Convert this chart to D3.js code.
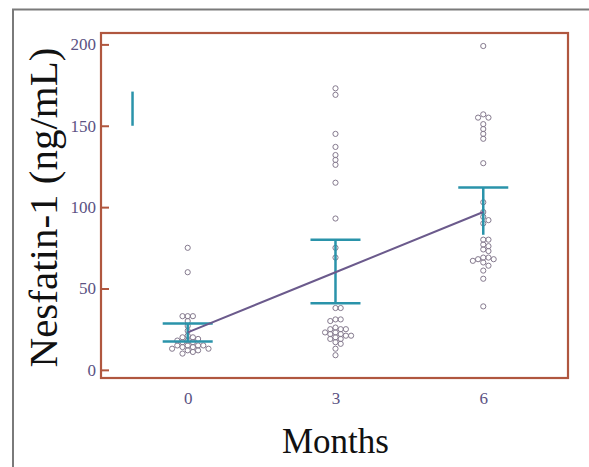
<!DOCTYPE html>
<html>
<head>
<meta charset="utf-8">
<script src="https://cdnjs.cloudflare.com/ajax/libs/d3/7.8.5/d3.min.js"></script>
<style>
  body { margin: 0; background: #fff; }
  svg { display: block; }
</style>
</head>
<body>
<div id="chart"></div>
<script>
// --- data ---
var months = [0, 3, 6];
var group0 = [75, 60, 33, 33, 33, 30, 27, 24, 21, 20, 20, 19, 18, 18, 17, 17, 15, 15, 15, 15, 14, 14, 13, 13, 12, 12, 11, 10];
var group3 = [173, 169, 145, 137, 132, 129, 126, 115, 93, 75, 69, 38, 38, 31, 31, 30, 26, 25, 25, 25, 23, 23, 22, 22, 21, 21, 20, 19, 19, 17, 16, 13, 9];
var group6 = [199, 157, 155, 155, 151, 148, 145, 142, 127, 103, 97, 94, 92, 90, 80, 80, 77, 76, 74, 73, 69, 69, 68, 68, 67, 66, 64, 61, 56, 39];
var means = [23, 60, 97];
var upper = [28.5, 80, 112];
var lower = [17.5, 41, 83];
var lowerCap = [true, true, false];
var legendMark = [150, 171];
var yTicks = [0, 50, 100, 150, 200];

var width = 589, height = 467;
var margin = {top: 33, right: 21, bottom: 89, left: 101};
var serif = "'Liberation Serif', 'Times New Roman', serif";

var svg = d3.select("#chart")
    .append("svg")
    .attr("width", width)
    .attr("height", height);

// outer frame
svg.append("rect")
    .attr("x", 13).attr("y", 9.5)
    .attr("width", 600).attr("height", 500)
    .attr("fill", "#fff")
    .attr("stroke", "#7a7a7a")
    .attr("stroke-width", 2);

var x = d3.scaleLinear()
    .domain([-1.76, 7.72])
    .range([margin.left, width - margin.right]);

var y = d3.scaleLinear()
    .domain([-5, 207])
    .range([height - margin.bottom, margin.top]);

var frameColor = "#b0573f",
    barColor = "#2a93aa",
    lineColor = "#6b5a8c",
    dotColor = "#857a8e",
    labelColor = "#5b5283";

// y axis with inward ticks
var yAxis = svg.append("g")
    .attr("transform", "translate(" + margin.left + ",0)")
    .call(d3.axisLeft(y).tickValues(yTicks).tickSizeInner(-8).tickSizeOuter(0).tickPadding(5));
yAxis.attr("font-family", serif).attr("font-size", 17);
yAxis.select(".domain").remove();
yAxis.selectAll(".tick line").attr("stroke", frameColor).attr("stroke-width", 2);
yAxis.selectAll(".tick text").attr("fill", labelColor);

// x labels
var xAxis = svg.append("g")
    .attr("transform", "translate(0," + (height - margin.bottom) + ")")
    .call(d3.axisBottom(x).tickValues(months).tickSize(0).tickPadding(14));
xAxis.attr("font-family", serif).attr("font-size", 17);
xAxis.select(".domain").remove();
xAxis.selectAll(".tick text").attr("fill", labelColor);

// plot frame
svg.append("rect")
    .attr("x", margin.left).attr("y", margin.top)
    .attr("width", width - margin.left - margin.right)
    .attr("height", height - margin.top - margin.bottom)
    .attr("fill", "none")
    .attr("stroke", frameColor)
    .attr("stroke-width", 2.2);

// simple beeswarm placement
var r = 2.6;
function swarm(vals, m) {
    var placed = [];
    vals.slice().sort(function(a, b) { return b - a; }).forEach(function(v) {
        var cy = y(v), cx0 = x(m), k = 0, cx;
        while (true) {
            var off = k === 0 ? 0 : Math.ceil(k / 2) * (k % 2 ? 1 : -1) * (r * 2);
            cx = cx0 + off;
            var ok = placed.every(function(p) {
                return Math.hypot(p.cx - cx, p.cy - cy) >= r * 2 - 0.6;
            });
            if (ok) break;
            k++;
        }
        placed.push({cx: cx, cy: cy, v: v});
    });
    return placed;
}

var groups = [group0, group3, group6];
groups.forEach(function(vals, i) {
    svg.append("g").selectAll("circle")
        .data(swarm(vals, months[i]))
        .enter().append("circle")
        .attr("cx", function(d) { return d.cx; })
        .attr("cy", function(d) { return d.cy; })
        .attr("r", r)
        .attr("fill", "none")
        .attr("stroke", dotColor)
        .attr("stroke-width", 1);
});

// error bars
var capW = 25;
var bars = svg.append("g").attr("stroke", barColor).attr("stroke-width", 2.5);
months.forEach(function(m, i) {
    bars.append("line")
        .attr("x1", x(m)).attr("x2", x(m))
        .attr("y1", y(upper[i])).attr("y2", y(lower[i]));
    bars.append("line")
        .attr("x1", x(m) - capW).attr("x2", x(m) + capW)
        .attr("y1", y(upper[i])).attr("y2", y(upper[i]));
    if (lowerCap[i]) {
        bars.append("line")
            .attr("x1", x(m) - capW).attr("x2", x(m) + capW)
            .attr("y1", y(lower[i])).attr("y2", y(lower[i]));
    }
});

// small mark at top left
bars.append("line")
    .attr("x1", x(-1.12)).attr("x2", x(-1.12))
    .attr("y1", y(legendMark[0])).attr("y2", y(legendMark[1]));

// line through the means
svg.append("path")
    .datum(months.map(function(m, i) { return [m, means[i]]; }))
    .attr("fill", "none")
    .attr("stroke", lineColor)
    .attr("stroke-width", 2)
    .attr("d", d3.line()
        .x(function(d) { return x(d[0]); })
        .y(function(d) { return y(d[1]); }));

// titles
svg.append("text")
    .attr("transform", "translate(57," + ((margin.top + height - margin.bottom) / 2 + 2) + ") rotate(-90)")
    .attr("text-anchor", "middle")
    .attr("font-family", serif)
    .attr("font-size", 41)
    .attr("fill", "#111")
    .text("Nesfatin-1 (ng/mL)");

svg.append("text")
    .attr("x", x(3))
    .attr("y", 453)
    .attr("text-anchor", "middle")
    .attr("font-family", serif)
    .attr("font-size", 35)
    .attr("fill", "#111")
    .text("Months");
</script>
</body>
</html>
